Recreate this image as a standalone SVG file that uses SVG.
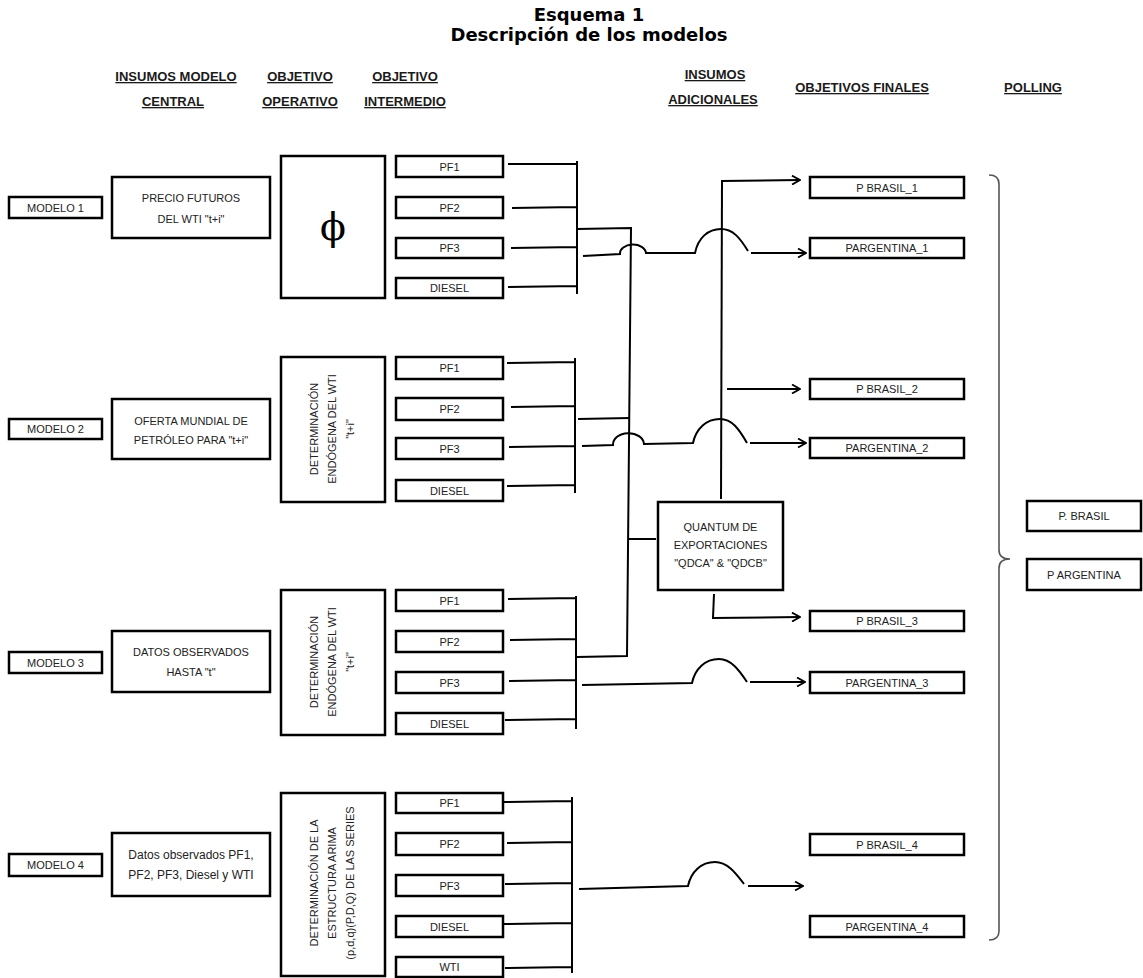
<svg xmlns="http://www.w3.org/2000/svg" width="1143" height="978" viewBox="0 0 1143 978">
<defs>
<style>
.ttl{font-family:"DejaVu Sans","Liberation Sans",sans-serif;font-weight:bold;font-size:18px;text-anchor:middle;fill:#000}
.hdr{font-family:"Liberation Sans",Arial,sans-serif;font-weight:bold;font-size:13px;text-decoration:underline;text-anchor:middle;fill:#1a1a1a}
.lbl{font-family:"Liberation Sans",Arial,sans-serif;font-size:11px;text-anchor:middle;fill:#222}
.box{fill:#fff;stroke:#000;stroke-width:2.5}
.ln{fill:none;stroke:#000;stroke-width:2}
.br{fill:none;stroke:#555;stroke-width:1.6}
</style>
<marker id="ah" viewBox="0 0 10 10" refX="9" refY="5" markerWidth="10" markerHeight="10" markerUnits="userSpaceOnUse" orient="auto">
<path d="M1,0.5 L9,5 L1,9.5" fill="none" stroke="#000" stroke-width="1.8"/>
</marker>
</defs>
<rect width="1143" height="978" fill="#fff"/>

<g id="title">
<text class="ttl" x="589" y="21">Esquema 1</text>
<text class="ttl" x="589" y="41">Descripción de los modelos</text>
</g>

<g id="headers">
<text class="hdr" x="176" y="81">INSUMOS MODELO</text>
<text class="hdr" x="173" y="106">CENTRAL</text>
<text class="hdr" x="300" y="81">OBJETIVO</text>
<text class="hdr" x="300" y="106">OPERATIVO</text>
<text class="hdr" x="405" y="81">OBJETIVO</text>
<text class="hdr" x="405" y="106">INTERMEDIO</text>
<text class="hdr" x="715" y="79">INSUMOS</text>
<text class="hdr" x="713" y="104">ADICIONALES</text>
<text class="hdr" x="862" y="92">OBJETIVOS FINALES</text>
<text class="hdr" x="1033" y="92">POLLING</text>
</g>

<!-- Model 1 -->
<g id="modelo1"><rect class="box" x="9" y="197" width="93" height="21"/><text class="lbl" x="55.5" y="211.5">MODELO 1</text></g>
<g id="insumo1"><rect class="box" x="112" y="177" width="158" height="61"/><text class="lbl" x="191" y="202">PRECIO FUTUROS</text><text class="lbl" x="191" y="223">DEL WTI "t+i"</text></g>
<g id="operativo1"><rect class="box" x="281" y="156" width="104" height="142"/><text x="333" y="240" text-anchor="middle" style="font-family:'DejaVu Serif',serif;font-size:38px">ϕ</text></g>
<g id="m1pf1"><rect class="box" x="396" y="156" width="107" height="21"/><text class="lbl" x="449.5" y="170.5">PF1</text></g>
<g id="m1pf2"><rect class="box" x="396" y="197" width="107" height="21"/><text class="lbl" x="449.5" y="211.5">PF2</text></g>
<g id="m1pf3"><rect class="box" x="396" y="238" width="107" height="20"/><text class="lbl" x="449.5" y="252">PF3</text></g>
<g id="m1diesel"><rect class="box" x="396" y="278" width="107" height="20"/><text class="lbl" x="449.5" y="292">DIESEL</text></g>

<!-- Model 2 -->
<g id="modelo2"><rect class="box" x="9" y="419" width="93" height="20"/><text class="lbl" x="55.5" y="433">MODELO 2</text></g>
<g id="insumo2"><rect class="box" x="112" y="399" width="158" height="60"/><text class="lbl" x="191" y="425">OFERTA MUNDIAL DE</text><text class="lbl" x="191" y="444">PETRÓLEO PARA "t+i"</text></g>
<g id="operativo2"><rect class="box" x="281" y="357" width="104" height="145"/>
<text class="lbl" transform="translate(318,429) rotate(-90)">DETERMINACIÓN</text>
<text class="lbl" transform="translate(336,429) rotate(-90)">ENDÓGENA DEL WTI</text>
<text class="lbl" transform="translate(354,429) rotate(-90)">"t+i"</text></g>
<g id="m2pf1"><rect class="box" x="396" y="357" width="107" height="22"/><text class="lbl" x="449.5" y="372">PF1</text></g>
<g id="m2pf2"><rect class="box" x="396" y="398" width="107" height="22"/><text class="lbl" x="449.5" y="413">PF2</text></g>
<g id="m2pf3"><rect class="box" x="396" y="438" width="107" height="21"/><text class="lbl" x="449.5" y="452.5">PF3</text></g>
<g id="m2diesel"><rect class="box" x="396" y="480" width="107" height="21"/><text class="lbl" x="449.5" y="494.5">DIESEL</text></g>

<!-- Model 3 -->
<g id="modelo3"><rect class="box" x="9" y="652" width="93" height="21"/><text class="lbl" x="55.5" y="666.5">MODELO 3</text></g>
<g id="insumo3"><rect class="box" x="112" y="631" width="158" height="61"/><text class="lbl" x="191" y="656">DATOS OBSERVADOS</text><text class="lbl" x="191" y="676">HASTA "t"</text></g>
<g id="operativo3"><rect class="box" x="281" y="590" width="104" height="145"/>
<text class="lbl" transform="translate(318,662) rotate(-90)">DETERMINACIÓN</text>
<text class="lbl" transform="translate(336,662) rotate(-90)">ENDÓGENA DEL WTI</text>
<text class="lbl" transform="translate(354,662) rotate(-90)">"t+i"</text></g>
<g id="m3pf1"><rect class="box" x="396" y="590" width="107" height="21"/><text class="lbl" x="449.5" y="604.5">PF1</text></g>
<g id="m3pf2"><rect class="box" x="396" y="631" width="107" height="21"/><text class="lbl" x="449.5" y="645.5">PF2</text></g>
<g id="m3pf3"><rect class="box" x="396" y="672" width="107" height="21"/><text class="lbl" x="449.5" y="686.5">PF3</text></g>
<g id="m3diesel"><rect class="box" x="396" y="713" width="107" height="21"/><text class="lbl" x="449.5" y="727.5">DIESEL</text></g>

<!-- Model 4 -->
<g id="modelo4"><rect class="box" x="9" y="854" width="93" height="22"/><text class="lbl" x="55.5" y="869">MODELO 4</text></g>
<g id="insumo4"><rect class="box" x="112" y="833" width="158" height="63"/><text class="lbl" x="191" y="859" style="font-size:12px">Datos observados PF1,</text><text class="lbl" x="191" y="879" style="font-size:12px">PF2, PF3, Diesel y WTI</text></g>
<g id="operativo4"><rect class="box" x="281" y="793" width="104" height="183"/>
<text class="lbl" transform="translate(318,883) rotate(-90)">DETERMINACIÓN DE LA</text>
<text class="lbl" transform="translate(336,883) rotate(-90)">ESTRUCTURA ARIMA</text>
<text class="lbl" transform="translate(354,883) rotate(-90)">(p,d,q)(P,D,Q) DE LAS SERIES</text></g>
<g id="m4pf1"><rect class="box" x="396" y="793" width="107" height="20"/><text class="lbl" x="449.5" y="807">PF1</text></g>
<g id="m4pf2"><rect class="box" x="396" y="833" width="107" height="22"/><text class="lbl" x="449.5" y="848">PF2</text></g>
<g id="m4pf3"><rect class="box" x="396" y="875" width="107" height="21"/><text class="lbl" x="449.5" y="889.5">PF3</text></g>
<g id="m4diesel"><rect class="box" x="396" y="916" width="107" height="21"/><text class="lbl" x="449.5" y="930.5">DIESEL</text></g>
<g id="m4wti"><rect class="box" x="396" y="957" width="107" height="20"/><text class="lbl" x="449.5" y="971">WTI</text></g>

<!-- Quantum -->
<g id="quantum"><rect class="box" x="658" y="502" width="125" height="88"/>
<text class="lbl" x="720.5" y="531">QUANTUM DE</text>
<text class="lbl" x="720.5" y="549">EXPORTACIONES</text>
<text class="lbl" x="720.5" y="567">"QDCA" &amp; "QDCB"</text></g>

<!-- Finals -->
<g id="pbrasil1"><rect class="box" x="810" y="177" width="154" height="21"/><text class="lbl" x="887" y="191.5">P BRASIL_1</text></g>
<g id="parg1"><rect class="box" x="810" y="238" width="154" height="20"/><text class="lbl" x="887" y="252">PARGENTINA_1</text></g>
<g id="pbrasil2"><rect class="box" x="810" y="379" width="154" height="20"/><text class="lbl" x="887" y="393">P BRASIL_2</text></g>
<g id="parg2"><rect class="box" x="810" y="438" width="154" height="20"/><text class="lbl" x="887" y="452">PARGENTINA_2</text></g>
<g id="pbrasil3"><rect class="box" x="810" y="611" width="154" height="20"/><text class="lbl" x="887" y="625">P BRASIL_3</text></g>
<g id="parg3"><rect class="box" x="810" y="672" width="154" height="21"/><text class="lbl" x="887" y="686.5">PARGENTINA_3</text></g>
<g id="pbrasil4"><rect class="box" x="810" y="834" width="154" height="21"/><text class="lbl" x="887" y="848.5">P BRASIL_4</text></g>
<g id="parg4"><rect class="box" x="810" y="916" width="154" height="21"/><text class="lbl" x="887" y="930.5">PARGENTINA_4</text></g>

<!-- Polling -->
<g id="pollbrasil"><rect class="box" x="1027" y="501" width="114" height="30"/><text class="lbl" x="1084" y="520">P. BRASIL</text></g>
<g id="pollarg"><rect class="box" x="1027" y="559" width="114" height="31"/><text class="lbl" x="1084" y="578.5">P ARGENTINA</text></g>

<g id="connectors">
<path class="ln" d="M508,164 L577,164 M512,208 L577,207 M511,248 L577,247 M508,287 L577,286 M577,161 L577,294"/>
<path class="ln" d="M507,363 L575,362 M511,407 L575,406 M509,447 L575,446 M507,486 L575,485 M575,358 L575,493"/>
<path class="ln" d="M508,599 L576,598 M510,640 L576,639 M509,681 L576,680 M505,720 L576,719 M576,596 L576,729"/>
<path class="ln" d="M503,802 L572,801 M507,843 L572,842 M505,884 L572,883 M503,924 L572,923 M505,968 L572,967 M572,797 L572,973"/>

<path class="ln" d="M577,229 L631,228 L627,656 L577,657"/>
<path class="ln" d="M578,419 L630,418"/>
<path class="ln" d="M628,539 L656,539"/>

<path class="ln" d="M722,180 L721,499"/>
<path class="ln" marker-end="url(#ah)" d="M722,181 L800,180"/>
<path class="ln" marker-end="url(#ah)" d="M727,389 L800,389"/>
<path class="ln" marker-end="url(#ah)" d="M714,594 L713,618 L800,617"/>

<path class="ln" d="M583,256 L620,254 A13,9 0 0 1 646,253 L695,253 C698,238 708,229 721,229 C733,229 740,238 748,251"/>
<path class="ln" marker-end="url(#ah)" d="M751,253 L806,253"/>

<path class="ln" d="M582,446 L613,445 A15,11 0 0 1 644,444 L693,443 C696,429 706,419 720,419 C732,419 739,429 747,443"/>
<path class="ln" marker-end="url(#ah)" d="M750,443 L806,443"/>

<path class="ln" d="M582,685 L692,683 C695,669 705,659 719,659 C731,659 739,670 747,682"/>
<path class="ln" marker-end="url(#ah)" d="M750,682 L805,682"/>

<path class="ln" d="M579,889 L688,886 C691,872 701,862 715,862 C727,862 735,872 744,884"/>
<path class="ln" marker-end="url(#ah)" d="M748,886 L803,886"/>

<path class="br" d="M989,175 Q999,175 999,184 L999,550 Q999,559 1010,559 Q999,559 999,568 L999,931 Q999,940 989,940"/>
</g>
</svg>
